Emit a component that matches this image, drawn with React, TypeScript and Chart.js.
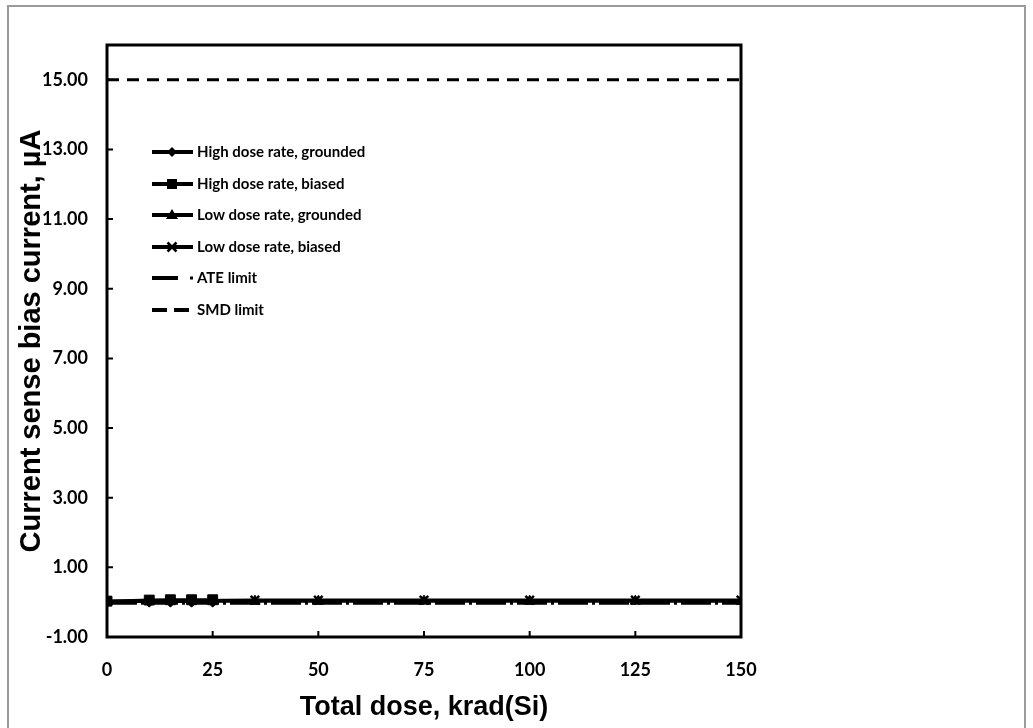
import React, { useEffect, useRef } from "react";
import { Chart, registerables } from "chart.js";

Chart.register(...registerables);

const xTicks = [0, 25, 50, 75, 100, 125, 150];
const yTicks = [-1, 1, 3, 5, 7, 9, 11, 13, 15];

const hdrDose = [0, 10, 15, 20, 25];
const hdrGrounded = [0.02, 0.03, 0.03, 0.03, 0.03];
const hdrBiased = [0.03, 0.06, 0.07, 0.07, 0.07];

const ldrDose = [0, 35, 50, 75, 100, 125, 150];
const ldrGrounded = [0.02, 0.03, 0.03, 0.03, 0.03, 0.03, 0.03];
const ldrBiased = [0.03, 0.06, 0.06, 0.06, 0.06, 0.06, 0.06];

const limitDose = [0, 150];
const ateLimit = [0, 0];
const smdLimit = [15, 15];

const seriesLabels = [
  "High dose rate, grounded",
  "High dose rate, biased",
  "Low dose rate, grounded",
  "Low dose rate, biased",
  "ATE limit",
  "SMD limit",
];

const pts = (xs: number[], ys: number[]) => xs.map((x, i) => ({ x, y: ys[i] }));

function drawMarker(ctx: CanvasRenderingContext2D, style: string, x: number, y: number) {
  ctx.save();
  ctx.fillStyle = "#000";
  ctx.strokeStyle = "#000";
  ctx.lineWidth = 2;
  ctx.beginPath();
  if (style === "rectRot") {
    const r = 5;
    ctx.moveTo(x, y - r);
    ctx.lineTo(x + r, y);
    ctx.lineTo(x, y + r);
    ctx.lineTo(x - r, y);
    ctx.closePath();
    ctx.fill();
  } else if (style === "rect") {
    ctx.fillRect(x - 5, y - 5, 10, 10);
  } else if (style === "triangle") {
    ctx.moveTo(x, y - 6);
    ctx.lineTo(x + 6, y + 4);
    ctx.lineTo(x - 6, y + 4);
    ctx.closePath();
    ctx.fill();
  } else if (style === "crossRot") {
    const d = 4.5;
    ctx.lineWidth = 2.5;
    ctx.moveTo(x - d, y - d);
    ctx.lineTo(x + d, y + d);
    ctx.moveTo(x + d, y - d);
    ctx.lineTo(x - d, y + d);
    ctx.stroke();
  }
  ctx.restore();
}

const framePlugin = {
  id: "frame",
  beforeDraw(chart: any) {
    const ctx = chart.ctx;
    ctx.save();
    ctx.fillStyle = "#ffffff";
    ctx.fillRect(0, 0, chart.width, chart.height);
    ctx.strokeStyle = "#9a9a9a";
    ctx.lineWidth = 2;
    ctx.strokeRect(8, 6, 1017, 740);
    ctx.restore();
  },
  afterDraw(chart: any) {
    const ctx = chart.ctx;
    const a = chart.chartArea;
    const xs = chart.scales.x;
    const ys = chart.scales.y;
    ctx.save();
    ctx.strokeStyle = "#000";
    ctx.lineWidth = 3;
    ctx.strokeRect(a.left, a.top, a.right - a.left, a.bottom - a.top);
    ctx.lineWidth = 2;
    ctx.beginPath();
    xTicks.forEach((v) => {
      const px = xs.getPixelForValue(v);
      ctx.moveTo(px, a.bottom);
      ctx.lineTo(px, a.bottom - 6);
    });
    yTicks.forEach((v) => {
      const py = ys.getPixelForValue(v);
      ctx.moveTo(a.left, py);
      ctx.lineTo(a.left + 6, py);
    });
    ctx.stroke();

    // legend
    const lx0 = 152;
    const lx1 = 193;
    const tx = 197;
    const rows = [152, 184, 215, 247, 278, 310];
    ctx.font = "bold 15px Lato";
    ctx.textBaseline = "middle";
    ctx.fillStyle = "#000";
    chart.data.datasets.forEach((ds: any, i: number) => {
      const y = rows[i];
      ctx.strokeStyle = "#000";
      ctx.setLineDash([]);
      if (i < 4) {
        ctx.lineWidth = 4;
        ctx.beginPath();
        ctx.moveTo(lx0, y);
        ctx.lineTo(lx1, y);
        ctx.stroke();
        drawMarker(ctx, ds.pointStyle, 172, y);
      } else if (i === 4) {
        ctx.lineWidth = 4;
        ctx.beginPath();
        ctx.moveTo(lx0, y);
        ctx.lineTo(178, y);
        ctx.stroke();
        ctx.fillRect(190, y - 1.5, 3, 3);
      } else {
        ctx.lineWidth = 4;
        ctx.beginPath();
        ctx.moveTo(lx0, y);
        ctx.lineTo(167, y);
        ctx.moveTo(174, y);
        ctx.lineTo(189, y);
        ctx.stroke();
      }
      ctx.fillText(ds.label, tx, y);
    });
    ctx.restore();
  },
};

export default function App() {
  const ref = useRef<HTMLCanvasElement>(null);

  useEffect(() => {
    document.body.style.margin = "0";
    const canvas = ref.current;
    if (!canvas) return;
    const lineBase = {
      borderColor: "#000",
      backgroundColor: "#000",
      pointBackgroundColor: "#000",
      pointBorderColor: "#000",
      borderWidth: 3,
      pointRadius: 6,
      pointBorderWidth: 1,
      tension: 0,
      fill: false,
    };
    const datasets = [
      { ...lineBase, label: seriesLabels[0], data: pts(hdrDose, hdrGrounded), pointStyle: "rectRot", pointRadius: 6 },
      { ...lineBase, label: seriesLabels[1], data: pts(hdrDose, hdrBiased), pointStyle: "rect", pointRadius: 7 },
      { ...lineBase, label: seriesLabels[2], data: pts(ldrDose, ldrGrounded), pointStyle: "triangle", pointRadius: 6 },
      { ...lineBase, label: seriesLabels[3], data: pts(ldrDose, ldrBiased), pointStyle: "crossRot", pointRadius: 6, pointBorderWidth: 2.5 },
      { ...lineBase, label: seriesLabels[4], data: pts(limitDose, ateLimit), pointRadius: 0, borderWidth: 5, borderDash: [30, 4, 3, 4], order: 10 },
      { ...lineBase, label: seriesLabels[5], data: pts(limitDose, smdLimit), pointRadius: 0, borderWidth: 3, borderDash: [12, 8], order: 10 },
    ];
    const chart = new Chart(canvas, {
      type: "line",
      data: { datasets: datasets as any },
      options: {
        responsive: false,
        animation: false,
        layout: { padding: { top: 45, right: 292, bottom: 0, left: 0 } },
        plugins: { legend: { display: false }, tooltip: { enabled: false } },
        scales: {
          x: {
            type: "linear",
            min: 0,
            max: 150,
            afterBuildTicks: (s: any) => {
              s.ticks = xTicks.map((v) => ({ value: v }));
            },
            afterFit: (s: any) => {
              s.height = 91;
            },
            grid: { display: false, drawTicks: false },
            border: { display: false },
            ticks: {
              color: "#000",
              font: { family: "Lato", weight: "bold", size: 18 },
              padding: 22,
              maxRotation: 0,
              callback: (v: any) => String(v),
            },
            title: {
              display: true,
              text: "Total dose, krad(Si)",
              color: "#000",
              font: { family: "Liberation Sans", weight: "bold", size: 27 },
              padding: { top: 0, bottom: 4 },
            },
          },
          y: {
            type: "linear",
            min: -1,
            max: 16,
            afterBuildTicks: (s: any) => {
              s.ticks = yTicks.map((v) => ({ value: v }));
            },
            afterFit: (s: any) => {
              s.width = 107;
            },
            grid: { display: false, drawTicks: false },
            border: { display: false },
            ticks: {
              color: "#000",
              font: { family: "Lato", weight: "bold", size: 18 },
              padding: 19,
              callback: (v: any) => Number(v).toFixed(2),
            },
            title: {
              display: true,
              text: "Current sense bias current, µA",
              color: "#000",
              font: { family: "Liberation Sans", weight: "bold", size: 29 },
              padding: { top: 15, bottom: 0 },
            },
          },
        },
      },
      plugins: [framePlugin],
    });
    return () => chart.destroy();
  }, []);

  return <canvas ref={ref} width={1033} height={728} style={{ display: "block" }} />;
}
